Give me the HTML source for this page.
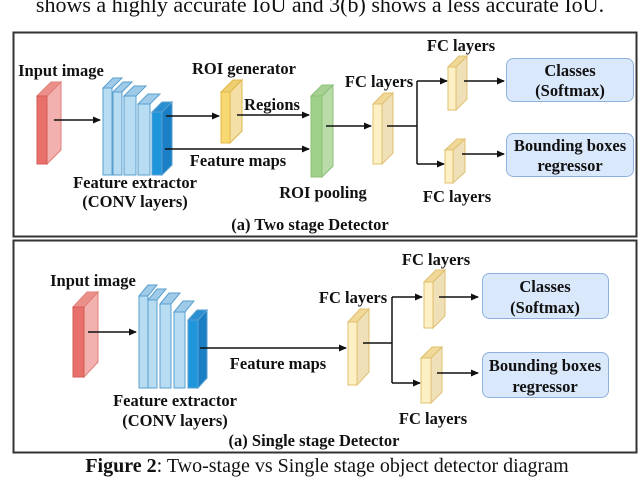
<!DOCTYPE html>
<html><head><meta charset="utf-8"><style>
html,body{margin:0;padding:0;background:#fff}
svg{display:block}
text{font-family:"Liberation Serif",serif;font-weight:bold;font-size:16.5px;fill:#111}
.c{text-anchor:middle}
</style></head><body>
<svg width="640" height="478" viewBox="0 0 640 478" xmlns="http://www.w3.org/2000/svg">
<defs>
<marker id="a" markerWidth="8" markerHeight="8" refX="7" refY="4" orient="auto" markerUnits="userSpaceOnUse"><path d="M0,0.5 L8,4 L0,7.5 Z" fill="#111"/></marker>
</defs>
<text x="320" y="12" class="c" style="font-weight:normal;font-size:22px">shows a highly accurate IoU and 3(b) shows a less accurate IoU.</text>
<rect x="13.5" y="32.5" width="623" height="204" fill="none" stroke="#333" stroke-width="2"/>
<rect x="13.5" y="240.5" width="623" height="212" fill="none" stroke="#333" stroke-width="2"/>

<!-- TOP -->
<text x="61" y="76" class="c">Input image</text>
<g stroke-width="1">
<path d="M47,96 L61,82 L61,150 L47,164Z" fill="#f2b1ae" stroke="#e07f7a"/>
<path d="M37,96 L51,82 L61,82 L47,96Z" fill="#eb8f8a" stroke="#e07f7a"/>
<rect x="37" y="96" width="10" height="68" fill="#e8706a" stroke="#d65c56"/>
</g>
<line x1="54" y1="120" x2="100" y2="120" stroke="#111" stroke-width="1.5" marker-end="url(#a)"/>
<g stroke="#5a9fd0" stroke-width="1">
<path d="M103,88 L113,78 L122,78 L112,88Z" fill="#9fcbe8"/><rect x="103" y="88" width="9" height="87" fill="#b8dcf2"/>
<path d="M113,92 L123,82 L132,82 L122,92Z" fill="#9fcbe8"/><rect x="113" y="92" width="9" height="83" fill="#b8dcf2"/>
<path d="M124,96 L134,86 L146,86 L136,96Z" fill="#9fcbe8"/><rect x="124" y="96" width="12" height="79" fill="#b8dcf2"/>
<path d="M138,104 L148,94 L160,94 L150,104Z" fill="#9fcbe8"/><rect x="138" y="104" width="12" height="71" fill="#b8dcf2"/>
<path d="M162,112 L172,102 L172,165 L162,175Z" fill="#1a7fc4"/>
<path d="M152,112 L162,102 L172,102 L162,112Z" fill="#2a8fd0"/>
<rect x="152" y="112" width="10" height="63" fill="#1f95dc"/>
</g>
<text x="135" y="188" class="c">Feature extractor</text>
<text x="135" y="207" class="c">(CONV layers)</text>
<line x1="166" y1="116" x2="219" y2="116" stroke="#111" stroke-width="1.5" marker-end="url(#a)"/>
<line x1="165" y1="149" x2="309" y2="149" stroke="#111" stroke-width="1.5" marker-end="url(#a)"/>
<text x="244" y="74" class="c">ROI generator</text>
<g stroke="#e0b84a"><path d="M230,92 L242,80 L242,131 L230,143Z" fill="#f4dfa6"/><path d="M221,92 L233,80 L242,80 L230,92Z" fill="#efcf70"/><rect x="221" y="92" width="9" height="51" fill="#f8d870"/></g>
<text x="272" y="110" class="c">Regions</text>
<line x1="237" y1="115" x2="309" y2="115" stroke="#111" stroke-width="1.5" marker-end="url(#a)"/>
<text x="238" y="166" class="c">Feature maps</text>
<g stroke="#8cc07a"><path d="M322,96 L333,85 L333,166 L322,177Z" fill="#b8dba8"/><path d="M311,96 L322,85 L333,85 L322,96Z" fill="#a5d192"/><rect x="311" y="96" width="11" height="81" fill="#9fd08a"/></g>
<text x="323" y="198" class="c">ROI pooling</text>
<line x1="326" y1="126" x2="371" y2="126" stroke="#111" stroke-width="1.5" marker-end="url(#a)"/>
<text x="379" y="87" class="c">FC layers</text>
<g stroke="#e0c070"><path d="M382,104 L393,93 L393,153 L382,164Z" fill="#efe0b8"/><path d="M373,104 L384,93 L393,93 L382,104Z" fill="#f0d898"/><rect x="373" y="104" width="9" height="60" fill="#fcf0c4"/></g>
<path d="M387,126 L417,126 M417,81 L417,164" stroke="#111" stroke-width="1.5" fill="none"/>
<line x1="417" y1="81" x2="447" y2="81" stroke="#111" stroke-width="1.5" marker-end="url(#a)"/>
<line x1="417" y1="164" x2="444" y2="164" stroke="#111" stroke-width="1.5" marker-end="url(#a)"/>
<text x="461" y="51" class="c">FC layers</text>
<g stroke="#e0c070"><path d="M456,67 L467,56 L467,99 L456,110Z" fill="#efe0b8"/><path d="M448,67 L459,56 L467,56 L456,67Z" fill="#f0d898"/><rect x="448" y="67" width="8" height="43" fill="#fcf0c4"/></g>
<text x="457" y="202" class="c">FC layers</text>
<g stroke="#e0c070"><path d="M453,150 L465,139 L465,172 L453,183Z" fill="#efe0b8"/><path d="M445,150 L457,139 L465,139 L453,150Z" fill="#f0d898"/><rect x="445" y="150" width="8" height="33" fill="#fcf0c4"/></g>
<line x1="464" y1="81" x2="504" y2="81" stroke="#111" stroke-width="1.5" marker-end="url(#a)"/>
<line x1="462" y1="154" x2="504" y2="154" stroke="#111" stroke-width="1.5" marker-end="url(#a)"/>
<rect x="506.5" y="58.5" width="127" height="43" rx="7" fill="#dae8fc" stroke="#8fb0dd"/>
<text x="570" y="76" class="c">Classes</text><text x="570" y="96" class="c">(Softmax)</text>
<rect x="506.5" y="133.5" width="127" height="43" rx="7" fill="#dae8fc" stroke="#8fb0dd"/>
<text x="570" y="151" class="c">Bounding boxes</text><text x="570" y="171" class="c">regressor</text>
<text x="310" y="230" class="c">(a) Two stage Detector</text>

<!-- BOTTOM -->
<text x="93" y="286" class="c">Input image</text>
<g>
<path d="M84,307 L98,292 L98,362 L84,377Z" fill="#f2b1ae" stroke="#e07f7a"/>
<path d="M73,307 L87,292 L98,292 L84,307Z" fill="#eb8f8a" stroke="#e07f7a"/>
<rect x="73" y="307" width="11" height="70" fill="#e8706a" stroke="#d65c56"/>
</g>
<line x1="88" y1="332" x2="136" y2="332" stroke="#111" stroke-width="1.5" marker-end="url(#a)"/>
<g stroke="#5a9fd0" stroke-width="1">
<path d="M139,296 L148,285 L157,285 L148,296Z" fill="#9fcbe8"/><rect x="139" y="296" width="9" height="92" fill="#b8dcf2"/>
<path d="M148,300 L157,289 L166,289 L157,300Z" fill="#9fcbe8"/><rect x="148" y="300" width="9" height="88" fill="#b8dcf2"/>
<path d="M160,304 L169,293 L180,293 L171,304Z" fill="#9fcbe8"/><rect x="160" y="304" width="11" height="84" fill="#b8dcf2"/>
<path d="M174,312 L183,301 L194,301 L185,312Z" fill="#9fcbe8"/><rect x="174" y="312" width="11" height="76" fill="#b8dcf2"/>
<path d="M198,320 L207,310 L207,378 L198,388Z" fill="#1a7fc4"/>
<path d="M188,320 L197,310 L207,310 L198,320Z" fill="#2a8fd0"/>
<rect x="188" y="320" width="10" height="68" fill="#1f95dc"/>
</g>
<text x="175" y="406" class="c">Feature extractor</text>
<text x="175" y="426" class="c">(CONV layers)</text>
<line x1="200" y1="348" x2="346" y2="348" stroke="#111" stroke-width="1.5" marker-end="url(#a)"/>
<text x="278" y="369" class="c">Feature maps</text>
<text x="353" y="303" class="c">FC layers</text>
<g stroke="#e0c070"><path d="M357,322 L369,309 L369,372 L357,385Z" fill="#efe0b8"/><path d="M348,322 L360,309 L369,309 L357,322Z" fill="#f0d898"/><rect x="348" y="322" width="9" height="63" fill="#fcf0c4"/></g>
<path d="M363,343 L392,343 M392,297 L392,383" stroke="#111" stroke-width="1.5" fill="none"/>
<line x1="392" y1="297" x2="422" y2="297" stroke="#111" stroke-width="1.5" marker-end="url(#a)"/>
<line x1="392" y1="383" x2="420" y2="383" stroke="#111" stroke-width="1.5" marker-end="url(#a)"/>
<text x="436" y="265" class="c">FC layers</text>
<g stroke="#e0c070"><path d="M433,282 L445,270 L445,316 L433,328Z" fill="#efe0b8"/><path d="M424,282 L436,270 L445,270 L433,282Z" fill="#f0d898"/><rect x="424" y="282" width="9" height="46" fill="#fcf0c4"/></g>
<text x="433" y="424" class="c">FC layers</text>
<g stroke="#e0c070"><path d="M431,358 L442,347 L442,392 L431,403Z" fill="#efe0b8"/><path d="M421,358 L432,347 L442,347 L431,358Z" fill="#f0d898"/><rect x="421" y="358" width="10" height="45" fill="#fcf0c4"/></g>
<line x1="439" y1="297" x2="478" y2="297" stroke="#111" stroke-width="1.5" marker-end="url(#a)"/>
<line x1="437" y1="373" x2="478" y2="373" stroke="#111" stroke-width="1.5" marker-end="url(#a)"/>
<rect x="482.5" y="273.5" width="126" height="45" rx="7" fill="#dae8fc" stroke="#8fb0dd"/>
<text x="545" y="292" class="c">Classes</text><text x="545" y="313" class="c">(Softmax)</text>
<rect x="482.5" y="352.5" width="126" height="45" rx="7" fill="#dae8fc" stroke="#8fb0dd"/>
<text x="545" y="371" class="c">Bounding boxes</text><text x="545" y="392" class="c">regressor</text>
<text x="314" y="446" class="c">(a) Single stage Detector</text>

<text x="327" y="472" class="c" style="font-weight:normal;font-size:20px"><tspan font-weight="bold">Figure 2</tspan>: Two-stage vs Single stage object detector diagram</text>
</svg>
</body></html>
